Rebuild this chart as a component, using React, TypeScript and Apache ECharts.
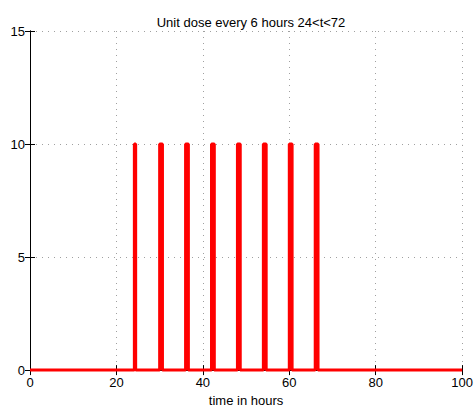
import React, { useEffect, useRef } from "react";
import * as echarts from "echarts";

const titleText = "Unit dose every 6 hours 24<t<72";
const xAxisName = "time in hours";
const doseStarts = [24.15, 30, 36, 42, 48, 54, 60, 66];
const doseEnds = [24.45, 30.65, 36.65, 42.65, 48.65, 54.65, 60.65, 66.65];
const doseHeight = 10;
const baseline = 0;
const timeRange = [0, 100];
const xTickStep = 20;
const yRange = [0, 15];
const yTickStep = 5;

function buildData(): number[][] {
  const pts: number[][] = [[timeRange[0], baseline]];
  doseStarts.forEach((s, i) => {
    const e = doseEnds[i];
    pts.push([s, baseline], [s, doseHeight], [e, doseHeight], [e, baseline]);
  });
  pts.push([timeRange[1], baseline]);
  return pts;
}

const FONT = "Liberation Sans, Arial, Helvetica, sans-serif";

export default function App() {
  const ref = useRef<HTMLDivElement>(null);
  useEffect(() => {
    if (!ref.current) return;
    const chart = echarts.init(ref.current, undefined, { renderer: "svg" });
    const splitLine = {
      show: true,
      lineStyle: { color: "#a0a0a0", type: [1, 5] as any, width: 1 },
    };
    const tick = { show: true, inside: true, length: 5, lineStyle: { color: "#000" } };
    const axisLine = { show: true, lineStyle: { color: "#000", width: 1 } };
    chart.setOption({
      animation: false,
      backgroundColor: "#fff",
      title: {
        text: titleText,
        left: 246,
        textAlign: "center",
        top: 11,
        textStyle: { fontFamily: FONT, fontSize: 13, fontWeight: "normal", color: "#000" },
      },
      grid: { left: 30, right: 13, top: 31, bottom: 39, containLabel: false },
      xAxis: [
        {
          type: "value",
          min: timeRange[0],
          max: timeRange[1],
          interval: xTickStep,
          position: "bottom",
          axisLine,
          axisTick: tick,
          splitLine,
          axisLabel: { color: "#000", fontSize: 13, fontFamily: FONT, margin: 6 },
          name: xAxisName,
          nameLocation: "middle",
          nameGap: 20,
          nameTextStyle: { color: "#000", fontSize: 13, fontFamily: FONT },
        },
        {
          type: "value",
          min: timeRange[0],
          max: timeRange[1],
          interval: xTickStep,
          position: "top",
          axisLine,
          axisTick: tick,
          splitLine: { show: false },
          axisLabel: { show: false },
        },
      ],
      yAxis: [
        {
          type: "value",
          min: yRange[0],
          max: yRange[1],
          interval: yTickStep,
          position: "left",
          axisLine,
          axisTick: tick,
          splitLine,
          axisLabel: { color: "#000", fontSize: 13, fontFamily: FONT, margin: 5 },
        },
        {
          type: "value",
          min: yRange[0],
          max: yRange[1],
          interval: yTickStep,
          position: "right",
          axisLine,
          axisTick: tick,
          splitLine: { show: false },
          axisLabel: { show: false },
        },
      ],
      series: [
        {
          type: "line",
          data: buildData(),
          xAxisIndex: 0,
          yAxisIndex: 0,
          showSymbol: false,
          symbol: "none",
          clip: false,
          z: 10,
          lineStyle: { color: "#ff0000", width: 3 },
          itemStyle: { color: "#ff0000" },
        },
      ],
    });
    return () => chart.dispose();
  }, []);
  return (
    <div
      ref={ref}
      style={{ position: "fixed", left: 0, top: 0, width: 476, height: 412, overflow: "hidden" }}
    />
  );
}
